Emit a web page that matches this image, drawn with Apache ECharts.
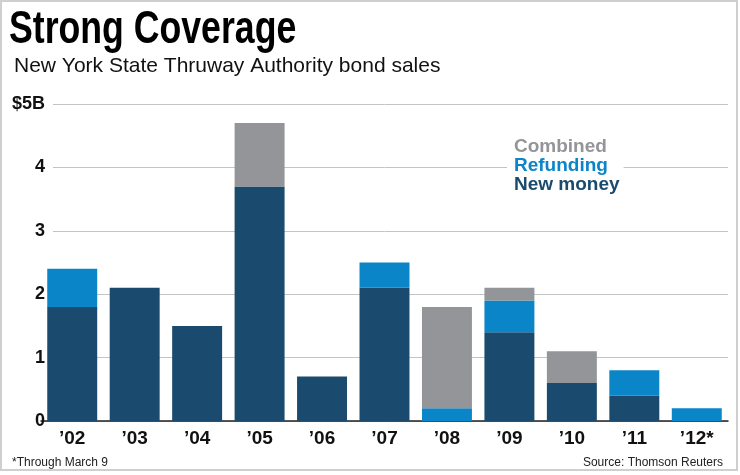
<!DOCTYPE html>
<html>
<head>
<meta charset="utf-8">
<script src="https://cdn.jsdelivr.net/npm/echarts@6/dist/echarts.min.js"></script>
<style>
  html, body { margin: 0; padding: 0; background: #fff; }
  #main { width: 740px; height: 475px; }
</style>
</head>
<body>
<div id="main"></div>
<script>
// Bond sales by year, $ billions
var years = ['\u201902', '\u201903', '\u201904', '\u201905', '\u201906', '\u201907', '\u201908', '\u201909', '\u201910', '\u201911', '\u201912*'];
var newMoney = [1.8, 2.1, 1.5, 3.7, 0.7, 2.1, 0, 1.4, 0.6, 0.4, 0];
var refunding = [0.6, 0, 0, 0, 0, 0.4, 0.2, 0.5, 0, 0.4, 0.2];
var combined = [0, 0, 0, 1.0, 0, 0, 1.6, 0.2, 0.5, 0, 0];
var yTicks = [0, 1, 2, 3, 4, 5];

var sans = '"Liberation Sans", Arial, sans-serif';

function drawChart() {
    var myChart = echarts.init(document.getElementById('main'));

    var option = {
        animation: false,
        title: [
            {
                text: 'New York State Thruway Authority bond sales',
                left: 9, top: 51,
                textStyle: { fontFamily: sans, fontWeight: 'normal', fontSize: 21, color: '#111' }
            },
            {
                text: '*Through March 9',
                left: 7, top: 452,
                textStyle: { fontFamily: sans, fontWeight: 'normal', fontSize: 12, color: '#222' }
            },
            {
                text: 'Source: Thomson Reuters',
                right: 12, top: 452,
                textStyle: { fontFamily: sans, fontWeight: 'normal', fontSize: 12, color: '#222' }
            }
        ],
        legend: {
            orient: 'vertical',
            left: 507, top: 137,
            icon: 'none',
            itemWidth: 0,
            itemGap: 0,
            selectedMode: false,
            backgroundColor: '#fff',
            padding: [0, 4, 0, 2],
            textStyle: { fontFamily: sans, fontWeight: 'bold', fontSize: 19 },
            data: [
                { name: 'Combined', textStyle: { color: '#939598' } },
                { name: 'Refunding', textStyle: { color: '#0a85c8' } },
                { name: 'New money', textStyle: { color: '#1a4b6e' } }
            ]
        },
        grid: { left: 41, right: 12, top: 104, bottom: 54 },
        xAxis: {
            type: 'category',
            data: years,
            axisLine: { show: true, lineStyle: { color: '#222', width: 1.5 } },
            axisTick: { show: false },
            axisLabel: {
                margin: 8,
                fontFamily: sans, fontWeight: 'bold', fontSize: 19, color: '#111'
            }
        },
        yAxis: {
            type: 'value',
            min: yTicks[0],
            max: yTicks[yTicks.length - 1],
            interval: 1,
            axisLine: { show: false },
            axisTick: { show: false },
            splitLine: { show: true, lineStyle: { color: '#c4c4c4', width: 1 } },
            axisLabel: {
                margin: -12,
                formatter: function (v) {
                    if (v === 0) return '{z|0}';
                    return '{g|' + (v === 5 ? '$5B' : v) + '}';
                },
                rich: {
                    g: { backgroundColor: '#fff', padding: [3, 8, 3, 0], fontFamily: sans, fontWeight: 'bold', fontSize: 18, color: '#111' },
                    z: { padding: [3, 8, 3, 0], fontFamily: sans, fontWeight: 'bold', fontSize: 18, color: '#111' }
                }
            }
        },
        series: [
            {
                name: 'New money', type: 'bar', stack: 'total',
                barCategoryGap: '20%',
                itemStyle: { color: '#1a4b6e' },
                data: newMoney
            },
            {
                name: 'Refunding', type: 'bar', stack: 'total',
                itemStyle: { color: '#0a85c8' },
                data: refunding
            },
            {
                name: 'Combined', type: 'bar', stack: 'total',
                itemStyle: { color: '#939598' },
                data: combined
            }
        ],
        graphic: [
            {
                // condensed headline: squeeze a bold face horizontally
                type: 'text',
                x: 9, y: 7,
                scaleX: 0.775, scaleY: 1,
                style: {
                    text: 'Strong Coverage',
                    font: 'bold 46px "Liberation Sans", Arial, sans-serif',
                    fill: '#000'
                },
                silent: true
            },
            {
                type: 'rect',
                shape: { x: 1, y: 1, width: 736, height: 469 },
                style: { fill: null, stroke: '#cfcfcf', lineWidth: 2 },
                silent: true
            }
        ]
    };

    myChart.setOption(option);
}

drawChart();
</script>
</body>
</html>
